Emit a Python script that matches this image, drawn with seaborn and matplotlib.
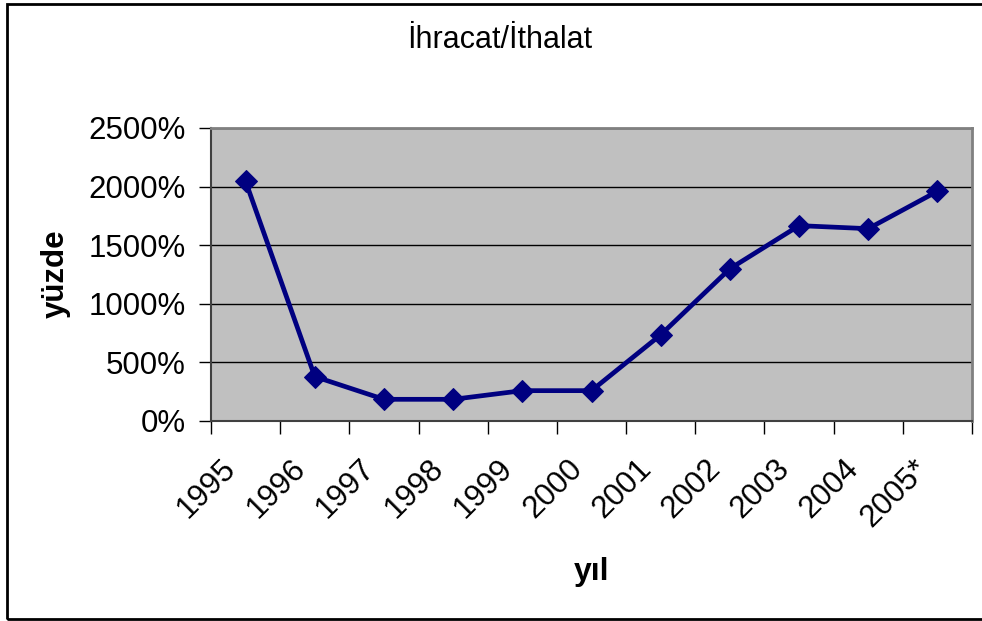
import matplotlib
matplotlib.use("Agg")
import matplotlib.pyplot as plt
import matplotlib.transforms as mtransforms
import seaborn as sns
import pandas as pd
import numpy as np
from matplotlib.ticker import FixedLocator, FuncFormatter
from matplotlib.patches import Rectangle

years = ["1995", "1996", "1997", "1998", "1999", "2000", "2001", "2002", "2003", "2004", "2005*"]
values = [2045, 379, 185, 185, 259, 259, 735, 1299, 1667, 1641, 1960]
yticks = [0, 500, 1000, 1500, 2000, 2500]

sns.set_theme(style="white")
plt.rcParams["font.family"] = ["Liberation Sans", "DejaVu Sans"]
plt.rcParams["text.color"] = "black"
plt.rcParams["xtick.color"] = "black"
plt.rcParams["ytick.color"] = "black"
plt.rcParams["axes.labelcolor"] = "black"

df = pd.DataFrame({"pos": np.arange(len(years)), "val": values})

fig = plt.figure(figsize=(9.82, 6.21), dpi=100)
ax = fig.add_axes([211/982, 1-421/621, (972-211)/982, (421-128)/621])
ax.set_facecolor("#C0C0C0")

sns.lineplot(data=df, x="pos", y="val", ax=ax, color="#000080", linewidth=3.4,
             marker="D", markersize=11, markeredgecolor="#000080", zorder=3)

ax.set_xlim(-0.5, len(years) - 0.5)
ax.set_ylim(0, 2500)
ax.set_yticks(yticks)
ax.yaxis.set_major_formatter(FuncFormatter(lambda v, p: f"{int(v)}%"))
ax.grid(axis="y", color="black", linewidth=1)
ax.set_axisbelow(True)

ax.xaxis.set_major_locator(FixedLocator(np.arange(-0.5, len(years), 1.0)))
ax.xaxis.set_minor_locator(FixedLocator(np.arange(len(years))))
ax.set_xticklabels([""] * (len(years) + 1))
ax.set_xticklabels(years, minor=True, rotation=45, ha="right", va="center", rotation_mode="anchor")
ax.tick_params(axis="x", which="minor", length=0, pad=31, labelsize=22.5, labelcolor="black")
ax.tick_params(axis="x", which="major", length=9, width=1, color="black", direction="out", bottom=True)
ax.tick_params(axis="y", length=9, width=1, color="black", direction="out", left=True,
               labelsize=22.5, pad=9, labelcolor="black")

shift = mtransforms.ScaledTranslation(-0.14, 0, fig.dpi_scale_trans)
for lbl in ax.get_xticklabels(minor=True):
    lbl.set_transform(lbl.get_transform() + shift)

for s in ["top", "right"]:
    ax.spines[s].set_color("#808080")
    ax.spines[s].set_linewidth(2)
for s in ["left", "bottom"]:
    ax.spines[s].set_color("#404040")
    ax.spines[s].set_linewidth(1.5)

ax.set_xlabel("yıl", fontsize=23, fontweight="bold", color="black")
ax.set_ylabel("yüzde", fontsize=22.5, fontweight="bold", color="black")
ax.xaxis.set_label_coords((592-211)/(972-211), (421-572)/(421-128))
ax.xaxis.label.set_va("center")
ax.yaxis.set_label_coords((56-211)/(972-211), (421-274)/(421-128))
ax.yaxis.label.set_va("center")

fig.text(500/982, 1-40/621, "İhracat/İthalat", ha="center", va="center", fontsize=22, color="black")

fig.patches.append(Rectangle((6.5/982, 2/621), 1.0, (617-2)/621, transform=fig.transFigure,
                             fill=False, edgecolor="black", linewidth=2, zorder=10))

fig.savefig("out.png", dpi=100)
